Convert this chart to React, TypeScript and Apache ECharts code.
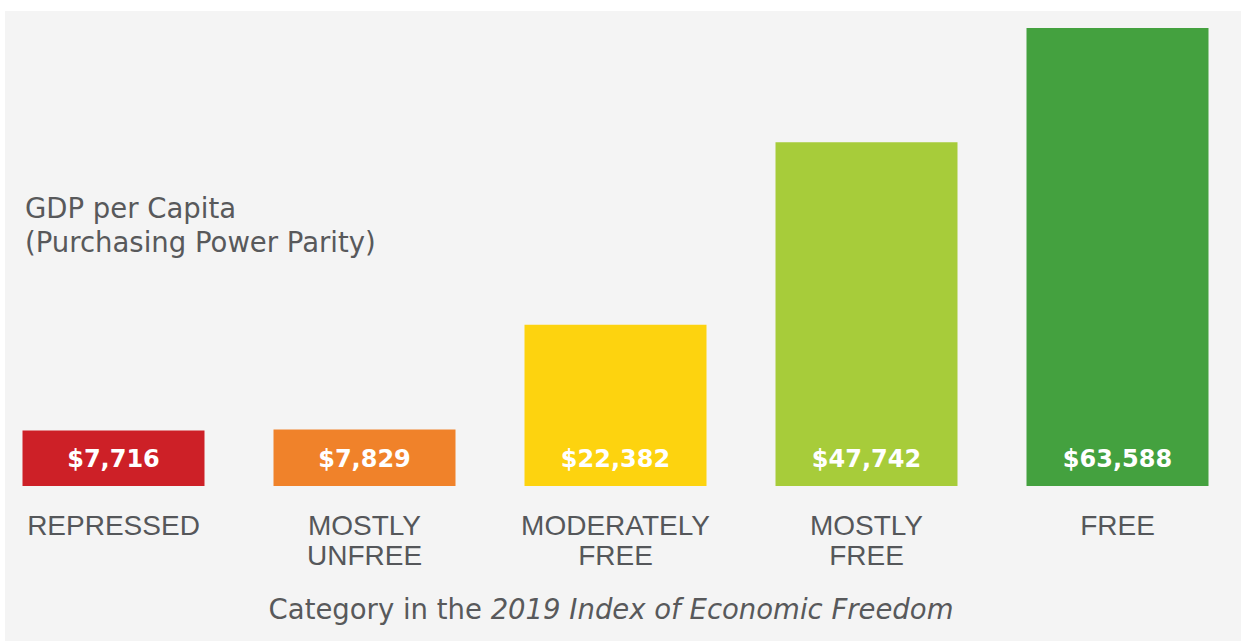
import React, { useEffect, useRef } from "react";
import * as echarts from "echarts";

const categories = ["REPRESSED", "MOSTLY\nUNFREE", "MODERATELY\nFREE", "MOSTLY\nFREE", "FREE"];
const gdpValues = [7716, 7829, 22382, 47742, 63588];
const barColors = ["#cd2027", "#f0822a", "#fdd30f", "#a7cc3a", "#44a13f"];
const yTitleLines = ["GDP per Capita", "(Purchasing Power Parity)"];

// container is shifted left so category bands line up with the reference
const SHIFT = 12;

export default function App() {
  const ref = useRef<HTMLDivElement>(null);
  useEffect(() => {
    if (!ref.current) return;
    const chart = echarts.init(ref.current, undefined, { renderer: "svg" });
    const maxVal = Math.max(...gdpValues);
    chart.setOption({
      animation: false,
      backgroundColor: "#ffffff",
      graphic: [
        {
          type: "rect",
          z: -10,
          silent: true,
          shape: { x: 5 + SHIFT, y: 11, width: 1250, height: 640 },
          style: { fill: "#f4f4f4" },
        },
        {
          type: "text",
          x: 25 + SHIFT,
          y: 191,
          style: {
            text: yTitleLines.join("\n"),
            font: "27.5px 'DejaVu Sans'",
            fill: "#58595b",
            lineHeight: 34,
            verticalAlign: "top",
            align: "left",
          },
        },
        {
          type: "text",
          x: 611 + SHIFT,
          y: 609,
          style: {
            text: "{r|Category in the }{i|2019 Index of Economic Freedom}",
            align: "center",
            verticalAlign: "middle",
            rich: {
              r: { fontFamily: "DejaVu Sans", fontSize: 27.5, fill: "#58595b" },
              i: { fontFamily: "DejaVu Sans", fontSize: 27.5, fontStyle: "italic", fill: "#58595b" },
            },
          },
        },
      ],
      grid: { left: 0, right: 0, top: 28, bottom: 155, containLabel: false },
      xAxis: {
        type: "category",
        data: categories,
        axisLine: { show: false },
        axisTick: { show: false },
        axisLabel: {
          interval: 0,
          margin: 24,
          lineHeight: 30,
          fontFamily: "Liberation Sans",
          fontSize: 28,
          color: "#55575a",
        },
      },
      yAxis: {
        type: "value",
        min: 0,
        max: maxVal,
        show: false,
        splitLine: { show: false },
      },
      series: [
        {
          type: "bar",
          barWidth: 182,
          data: gdpValues.map((v, i) => ({ value: v, itemStyle: { color: barColors[i] } })),
          label: {
            show: true,
            position: "insideBottom",
            distance: 15,
            color: "#ffffff",
            fontFamily: "DejaVu Sans",
            fontWeight: "bold",
            fontSize: 24,
            lineHeight: 24,
            formatter: (p: any) => "$" + Number(p.value).toLocaleString("en-US"),
          },
        },
      ],
    });
    return () => chart.dispose();
  }, []);
  return (
    <div
      ref={ref}
      style={{ position: "fixed", left: -SHIFT, top: 0, width: 1241 + 14, height: 641 }}
    />
  );
}
